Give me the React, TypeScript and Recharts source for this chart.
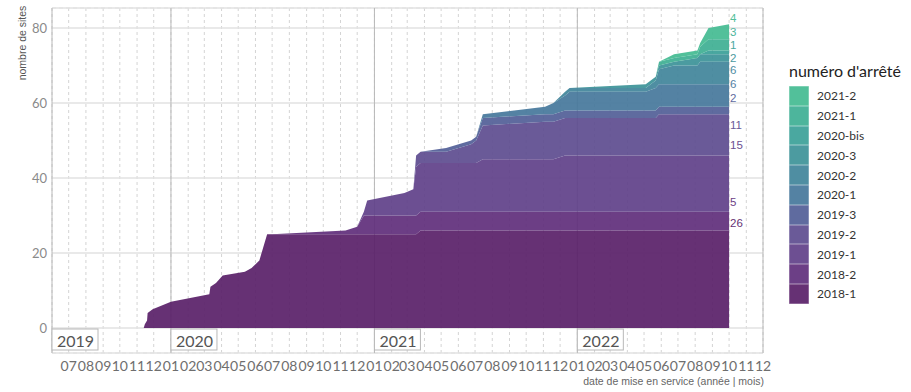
import { Area, AreaChart, CartesianGrid, ReferenceLine, XAxis, YAxis } from "recharts";

// dates of commissioning steps
const dates = [
  "2019-11-13", "2019-11-15", "2019-11-19", "2019-11-20", "2019-11-29",
  "2020-01-01", "2020-03-10", "2020-03-12", "2020-03-22", "2020-04-03",
  "2020-05-13", "2020-05-25", "2020-06-08", "2020-06-14", "2020-06-22",
  "2020-07-01", "2020-11-10", "2020-12-01", "2020-12-13", "2020-12-19",
  "2021-02-24", "2021-03-12", "2021-03-17", "2021-03-25", "2021-05-10",
  "2021-06-24", "2021-07-03", "2021-07-15", "2021-11-04", "2021-11-19",
  "2021-12-10", "2021-12-18", "2022-05-04", "2022-05-22", "2022-05-28",
  "2022-06-24", "2022-08-05", "2022-08-10", "2022-08-25", "2022-10-01",
];

// cumulative number of sites per arrêté
const a2018_1 = [0, 1, 2, 4, 5, 7, 9, 11, 12, 14, 15, 16, 18, 21, 25, 25, 25, 25, 25, 25, 25, 25, 25, 26, 26, 26, 26, 26, 26, 26, 26, 26, 26, 26, 26, 26, 26, 26, 26, 26];
const a2018_2 = [0, 0, 0, 0, 0, 0, 0, 0, 0, 0, 0, 0, 0, 0, 0, 0, 1, 2, 5, 5, 5, 5, 5, 5, 5, 5, 5, 5, 5, 5, 5, 5, 5, 5, 5, 5, 5, 5, 5, 5];
const a2019_1 = [0, 0, 0, 0, 0, 0, 0, 0, 0, 0, 0, 0, 0, 0, 0, 0, 0, 0, 1, 4, 6, 7, 13, 13, 13, 13, 13, 14, 14, 14, 15, 15, 15, 15, 15, 15, 15, 15, 15, 15];
const a2019_2 = [0, 0, 0, 0, 0, 0, 0, 0, 0, 0, 0, 0, 0, 0, 0, 0, 0, 0, 0, 0, 0, 0, 3, 3, 3, 5, 6, 9, 10, 10, 10, 10, 10, 10, 11, 11, 11, 11, 11, 11];
const a2019_3 = [0, 0, 0, 0, 0, 0, 0, 0, 0, 0, 0, 0, 0, 0, 0, 0, 0, 0, 0, 0, 0, 0, 0, 0, 1, 1, 1, 2, 2, 2, 2, 2, 2, 2, 2, 2, 2, 2, 2, 2];
const a2020_1 = [0, 0, 0, 0, 0, 0, 0, 0, 0, 0, 0, 0, 0, 0, 0, 0, 0, 0, 0, 0, 0, 0, 0, 0, 0, 0, 0, 1, 2, 3, 4, 5, 5, 6, 6, 6, 6, 6, 6, 6];
const a2020_2 = [0, 0, 0, 0, 0, 0, 0, 0, 0, 0, 0, 0, 0, 0, 0, 0, 0, 0, 0, 0, 0, 0, 0, 0, 0, 0, 0, 0, 0, 0, 1, 1, 1, 2, 4, 5, 5, 6, 6, 6];
const a2020_3 = [0, 0, 0, 0, 0, 0, 0, 0, 0, 0, 0, 0, 0, 0, 0, 0, 0, 0, 0, 0, 0, 0, 0, 0, 0, 0, 0, 0, 0, 0, 0, 0, 1, 1, 1, 1, 2, 2, 2, 2];
const a2020_bis = [0, 0, 0, 0, 0, 0, 0, 0, 0, 0, 0, 0, 0, 0, 0, 0, 0, 0, 0, 0, 0, 0, 0, 0, 0, 0, 0, 0, 0, 0, 0, 0, 0, 0, 0, 0, 0, 0, 1, 1];
const a2021_1 = [0, 0, 0, 0, 0, 0, 0, 0, 0, 0, 0, 0, 0, 0, 0, 0, 0, 0, 0, 0, 0, 0, 0, 0, 0, 0, 0, 0, 0, 0, 0, 0, 0, 0, 1, 1, 1, 2, 3, 3];
const a2021_2 = [0, 0, 0, 0, 0, 0, 0, 0, 0, 0, 0, 0, 0, 0, 0, 0, 0, 0, 0, 0, 0, 0, 0, 0, 0, 0, 0, 0, 0, 0, 0, 0, 0, 0, 0, 1, 1, 1, 3, 4];

const arretes = ["2018-1", "2018-2", "2019-1", "2019-2", "2019-3", "2020-1", "2020-2", "2020-3", "2020-bis", "2021-1", "2021-2"];
const counts = [a2018_1, a2018_2, a2019_1, a2019_2, a2019_3, a2020_1, a2020_2, a2020_3, a2020_bis, a2021_1, a2021_2];

const yMajor = [0, 20, 40, 60, 80];
const yMinor = [10, 30, 50, 70];
const years = [2019, 2020, 2021, 2022];

// styling
const palette = ["#663174", "#6c3f86", "#6d4f92", "#6a5a98", "#5f6b9f", "#5482a3", "#4f8ea2", "#4c9ba0", "#4aa8a0", "#4db59c", "#52c09a"];
const labelShift = [-8, -10, -10.5, 11, -8.5, -0.5, 8.5, 4, -6, -7.5, -6];
const ALPHA = 0.92;
const Y_DOMAIN = [-6.67, 85.33];

const toTs = (d: string) => Date.parse(d + "T00:00:00Z");
const xStart = toTs("2019-06-01");
const xEnd = toTs("2022-12-01");
const yearTicks = years.filter((y) => y > 2019).map((y) => toTs(`${y}-01-01`));

const monthTicks: number[] = [];
for (let t = xStart; t <= xEnd; ) {
  monthTicks.push(t);
  const d = new Date(t);
  t = Date.UTC(d.getUTCFullYear(), d.getUTCMonth() + 1, 1);
}

const data = dates.map((d, i) => {
  const row: Record<string, number> = { ts: toTs(d) };
  arretes.forEach((n, k) => (row[n] = counts[k][i]));
  return row;
});

function underWhite(hex: string, a: number) {
  const n = parseInt(hex.slice(1), 16);
  const c = [n >> 16, (n >> 8) & 255, n & 255].map((v) =>
    Math.max(0, Math.min(255, Math.round((v - 255 * (1 - a)) / a)))
  );
  return `rgb(${c.join(",")})`;
}

const fmtMonth = (t: number) => {
  if (t === xStart) return "";
  return String(new Date(t).getUTCMonth() + 1).padStart(2, "0");
};

const endLabel = (k: number) => (p: any) => {
  if (p.index !== dates.length - 1) return <g />;
  return (
    <text
      x={p.x + 1}
      y={p.y + labelShift[k]}
      dy="0.35em"
      fill={palette[k]}
      fontSize={11.5}
      fontFamily="Liberation Sans, Arial, sans-serif"
    >
      {counts[k][p.index]}
    </text>
  );
};

const yearBox = (year: number) => (p: any) => {
  const { x, y, height } = p.viewBox;
  const b = y + height;
  return (
    <g>
      <rect x={x} y={b - 24} width={46} height={21} fill="#fff" stroke="#b8b8b8" strokeWidth={1} />
      <text x={x + 5} y={b - 13} dominantBaseline="central" fontSize={16} fill="#555" fontFamily="Lato, sans-serif">
        {year}
      </text>
    </g>
  );
};

export default function App() {
  return (
    <div style={{ position: "absolute", left: 0, top: 0, width: 911, height: 392, background: "#fff", fontFamily: "Lato, sans-serif" }}>
      <AreaChart width={911} height={392} data={data} margin={{ top: 8, right: 148, bottom: 9, left: 0 }}>
        <CartesianGrid horizontal={false} strokeDasharray="3 3" stroke="#d4d4d4" />
        <CartesianGrid vertical={false} yAxisId="minor" strokeDasharray="4 3" stroke="#dcdcdc" />
        <CartesianGrid vertical={false} stroke="#e2e2e2" strokeWidth={1.4} />
        <CartesianGrid horizontal={false} xAxisId="yr" stroke="#b8b8b8" />
        <XAxis
          dataKey="ts"
          type="number"
          domain={[xStart, xEnd]}
          ticks={monthTicks}
          tickFormatter={fmtMonth}
          interval={0}
          tickLine={false}
          axisLine={false}
          tickSize={0}
          tickMargin={8}
          height={30}
          tick={{ fill: "#6e6e6e", fontSize: 14, fontFamily: "Lato, sans-serif" }}
        />
        <XAxis xAxisId="yr" dataKey="ts" type="number" domain={[xStart, xEnd]} ticks={yearTicks} hide />
        <YAxis
          type="number"
          domain={Y_DOMAIN}
          ticks={yMajor}
          tickLine={false}
          axisLine={false}
          tickSize={0}
          tickMargin={5}
          width={52}
          tick={{ fill: "#8a8a8a", fontSize: 13, fontFamily: "Lato, sans-serif" }}
        />
        <YAxis yAxisId="minor" type="number" domain={Y_DOMAIN} ticks={yMinor} hide />
        {arretes.map((n, k) => (
          <Area
            key={n}
            dataKey={n}
            stackId="s"
            type="linear"
            stroke="none"
            fill={underWhite(palette[k], ALPHA)}
            fillOpacity={ALPHA}
            isAnimationActive={false}
            label={endLabel(k)}
          />
        ))}
        {years.map((yr) => (
          <ReferenceLine
            key={yr}
            x={yr === 2019 ? xStart : toTs(`${yr}-01-01`)}
            stroke="none"
            label={yearBox(yr)}
          />
        ))}
      </AreaChart>

      <div
        style={{
          position: "absolute",
          left: 22,
          top: 43,
          transform: "translate(-50%, -50%) rotate(-90deg)",
          fontSize: 10.5,
          color: "#555",
          fontFamily: "Liberation Sans, Arial, sans-serif",
          whiteSpace: "nowrap",
        }}
      >
        nombre de sites
      </div>
      <div
        style={{
          position: "absolute",
          right: 911 - 764,
          top: 375,
          fontSize: 10.5,
          color: "#666",
          fontFamily: "Liberation Sans, Arial, sans-serif",
          whiteSpace: "nowrap",
        }}
      >
        date de mise en service (année | mois)
      </div>

      <div style={{ position: "absolute", left: 789, top: 61 }}>
        <div style={{ fontSize: 16, color: "#222", whiteSpace: "nowrap", lineHeight: "20px" }}>numéro d'arrêté</div>
        <div style={{ marginTop: 5 }}>
          {arretes
            .map((n, k) => ({ n, k }))
            .reverse()
            .map(({ n, k }) => (
              <div key={n} style={{ display: "flex", alignItems: "center", height: 19.8 }}>
                <div style={{ width: 20, height: 19.8, background: palette[k], boxShadow: "inset 0 0 0 0.5px rgba(255,255,255,0.5)" }} />
                <span style={{ marginLeft: 8, fontSize: 12, color: "#333" }}>{n}</span>
              </div>
            ))}
        </div>
      </div>
    </div>
  );
}
